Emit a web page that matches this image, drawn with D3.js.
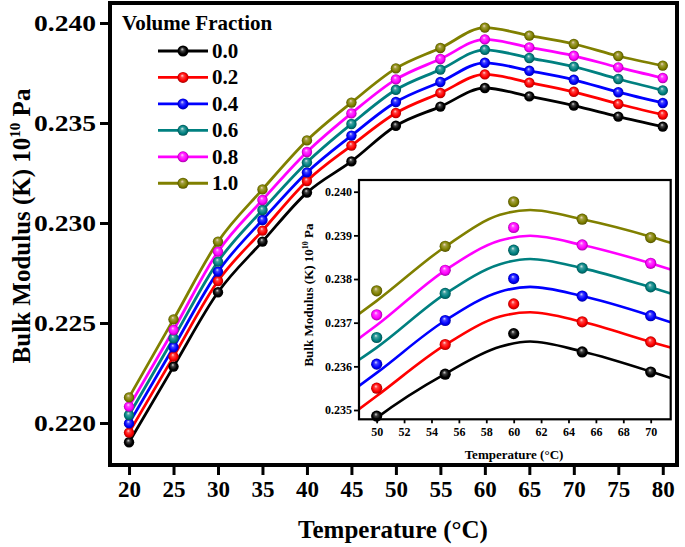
<!DOCTYPE html>
<html><head><meta charset="utf-8">
<script src="https://cdn.jsdelivr.net/npm/d3@7"></script>
<style>body{margin:0;background:#fff}</style>
</head><body><svg id="c" width="685" height="547"></svg>
<script>
// ---------- data ----------
const temps = [20, 25, 30, 35, 40, 45, 50, 55, 60, 65, 70, 75, 80];
const fractions = ["0.0", "0.2", "0.4", "0.6", "0.8", "1.0"];
const colors = ["#000000", "#ff0000", "#0000ff", "#008080", "#ff00ff", "#808000"];
const k00 = [0.21904, 0.22282, 0.22654, 0.22907, 0.23152, 0.23308, 0.23486, 0.23582, 0.23675, 0.23633, 0.23587, 0.23532, 0.23482];
const k02 = [0.21952, 0.22332, 0.22710, 0.22962, 0.23210, 0.23387, 0.23550, 0.23650, 0.23743, 0.23702, 0.23656, 0.23595, 0.23542];
const k04 = [0.21998, 0.22379, 0.22757, 0.23015, 0.23253, 0.23437, 0.23605, 0.23705, 0.23801, 0.23761, 0.23716, 0.23654, 0.23600];
const k06 = [0.22040, 0.22424, 0.22807, 0.23065, 0.23303, 0.23495, 0.23666, 0.23767, 0.23866, 0.23825, 0.23782, 0.23720, 0.23663];
const k08 = [0.22082, 0.22465, 0.22857, 0.23115, 0.23355, 0.23548, 0.23718, 0.23820, 0.23918, 0.23878, 0.23836, 0.23778, 0.23725];
const k10 = [0.22128, 0.22518, 0.22907, 0.23168, 0.23413, 0.23602, 0.23773, 0.23875, 0.23977, 0.23937, 0.23895, 0.23835, 0.23787];
const mainSeries = [k00, k02, k04, k06, k08, k10];

// inset: fitted curves
const insetTemps = [50, 55, 60, 65, 70];
const fitTemps = [48.71, 50, 55, 59, 61.2, 65, 70, 71.46];
const fit00 = [0.23450, 0.23482, 0.23583, 0.23645, 0.23657, 0.23634, 0.23588, 0.23573];
const fit02 = [0.23502, 0.23532, 0.23649, 0.23714, 0.23724, 0.23702, 0.23656, 0.23643];
const fit04 = [0.23555, 0.23585, 0.23705, 0.23771, 0.23782, 0.23761, 0.23716, 0.23701];
const fit06 = [0.23615, 0.23643, 0.23766, 0.23834, 0.23846, 0.23825, 0.23781, 0.23767];
const fit08 = [0.23664, 0.23694, 0.23820, 0.23888, 0.23899, 0.23878, 0.23836, 0.23822];
const fit10 = [0.23720, 0.23750, 0.23874, 0.23947, 0.23958, 0.23937, 0.23897, 0.23883];
const fitSeries = [fit00, fit02, fit04, fit06, fit08, fit10];

const mainXTicks = [20, 25, 30, 35, 40, 45, 50, 55, 60, 65, 70, 75, 80];
const mainYTicks = [0.220, 0.225, 0.230, 0.235, 0.240];
const insetXTicks = [50, 52, 54, 56, 58, 60, 62, 64, 66, 68, 70];
const insetYTicks = [0.235, 0.236, 0.237, 0.238, 0.239, 0.240];

// ---------- drawing ----------
const FONT = "'Liberation Serif','Times New Roman',serif";
const svg = d3.select("#c");
const defs = svg.append("defs");
colors.forEach((c, i) => {
  const g = defs.append("radialGradient").attr("id", "g" + i)
    .attr("cx", "50%").attr("cy", "50%").attr("r", "50%").attr("fx", "42%").attr("fy", "32%");
  const hi = i === 5 ? "#f4d2c0" : d3.interpolateRgb(c, "#ffffff")(0.85);
  g.append("stop").attr("offset", "0%").attr("stop-color", hi);
  g.append("stop").attr("offset", "30%").attr("stop-color", d3.interpolateRgb(c, "#ffffff")(0.25));
  g.append("stop").attr("offset", "70%").attr("stop-color", c);
  g.append("stop").attr("offset", "100%").attr("stop-color", d3.interpolateRgb(c, "#000000")(0.35));
});

// main scales
const x = d3.scaleLinear().domain([17.86, 81.6]).range([110, 677]);
const y = d3.scaleLinear().domain([0.2179, 0.2410]).range([465, 3]);

// axes
const xAxis = svg.append("g").attr("transform", "translate(0,465)")
  .call(d3.axisBottom(x).tickValues(mainXTicks).tickSize(10).tickPadding(6).tickFormat(d3.format("d")));
const yAxis = svg.append("g").attr("transform", "translate(110,0)")
  .call(d3.axisLeft(y).tickValues(mainYTicks).tickSize(10).tickPadding(4).tickFormat(d3.format(".3f")));
[xAxis, yAxis].forEach(a => {
  a.select(".domain").remove();
  a.selectAll(".tick line").attr("stroke", "#000").attr("stroke-width", 3);
  a.selectAll(".tick text").attr("fill", "#000").style("font-family", FONT).style("font-weight", "bold");
});
xAxis.selectAll(".tick text").style("font-size", "23px");
yAxis.selectAll(".tick text").style("font-size", "23px").attr("textLength", 62).attr("lengthAdjust", "spacingAndGlyphs");

// frame
svg.append("rect").attr("x", 110).attr("y", 3).attr("width", 567).attr("height", 462)
  .attr("fill", "none").attr("stroke", "#000").attr("stroke-width", 4);

// main lines & markers
const line = d3.line().x((d, i) => x(temps[i])).y(d => y(d)).curve(d3.curveMonotoneX);
mainSeries.forEach((s, i) => {
  svg.append("path").datum(s).attr("d", line).attr("fill", "none")
    .attr("stroke", colors[i]).attr("stroke-width", 2.8);
});
mainSeries.forEach((s, i) => {
  svg.append("g").selectAll("circle").data(s).join("circle")
    .attr("cx", (d, j) => x(temps[j])).attr("cy", d => y(d)).attr("r", 5.2)
    .attr("fill", "url(#g" + i + ")");
});

// legend
svg.append("text").attr("x", 122).attr("y", 30).text("Volume Fraction")
  .style("font-family", FONT).style("font-weight", "bold").style("font-size", "21px");
fractions.forEach((f, i) => {
  const cy = 51 + i * 26.45;
  svg.append("line").attr("x1", 158).attr("x2", 208).attr("y1", cy).attr("y2", cy)
    .attr("stroke", colors[i]).attr("stroke-width", 2.8);
  svg.append("circle").attr("cx", 183).attr("cy", cy).attr("r", 5.5).attr("fill", "url(#g" + i + ")");
  svg.append("text").attr("x", 212).attr("y", cy + 7).text(f)
    .style("font-family", FONT).style("font-weight", "bold").style("font-size", "21px");
});

// axis titles
svg.append("text").attr("x", 393).attr("y", 538).attr("text-anchor", "middle")
  .style("font-family", FONT).style("font-weight", "bold").style("font-size", "25px")
  .text("Temperature (°C)");
const yt = svg.append("text").attr("transform", "translate(30,226) rotate(-90)").attr("text-anchor", "middle")
  .style("font-family", FONT).style("font-weight", "bold").style("font-size", "25px");
yt.append("tspan").text("Bulk Modulus (K) 10");
yt.append("tspan").attr("dy", -10).style("font-size", "15px").text("10");
yt.append("tspan").attr("dy", 10).text(" Pa");

// ---------- inset ----------
const ix = d3.scaleLinear().domain([48.71, 71.46]).range([359, 670.7]);
const iy = d3.scaleLinear().domain([0.234787, 0.240268]).range([419.3, 180]);
svg.append("rect").attr("x", 359).attr("y", 180).attr("width", 311.7).attr("height", 239.3).attr("fill", "#fff");
defs.append("clipPath").attr("id", "iclip").append("rect")
  .attr("x", 359).attr("y", 180).attr("width", 311.7).attr("height", 239.3);

const ixAxis = svg.append("g").attr("transform", "translate(0,419.3)")
  .call(d3.axisBottom(ix).tickValues(insetXTicks).tickSize(4).tickPadding(4).tickFormat(d3.format("d")));
const iyAxis = svg.append("g").attr("transform", "translate(359,0)")
  .call(d3.axisLeft(iy).tickValues(insetYTicks).tickSize(5).tickPadding(2).tickFormat(d3.format(".3f")));
[ixAxis, iyAxis].forEach(a => {
  a.select(".domain").remove();
  a.selectAll(".tick line").attr("stroke", "#000").attr("stroke-width", 1.8);
  a.selectAll(".tick text").attr("fill", "#000").style("font-family", FONT).style("font-weight", "bold").style("font-size", "12px");
});

const iline = d3.line().x((d, i) => ix(fitTemps[i])).y(d => iy(d)).curve(d3.curveMonotoneX);
const ig = svg.append("g").attr("clip-path", "url(#iclip)");
fitSeries.forEach((s, i) => {
  ig.append("path").datum(s).attr("d", iline).attr("fill", "none")
    .attr("stroke", colors[i]).attr("stroke-width", 2.6);
});
mainSeries.forEach((s, i) => {
  const pts = insetTemps.map(t => ({t, v: s[temps.indexOf(t)]}));
  svg.append("g").selectAll("circle").data(pts).join("circle")
    .attr("cx", d => ix(d.t)).attr("cy", d => iy(d.v)).attr("r", 5.6)
    .attr("fill", "url(#g" + i + ")");
});
svg.append("rect").attr("x", 359).attr("y", 180).attr("width", 311.7).attr("height", 239.3)
  .attr("fill", "none").attr("stroke", "#000").attr("stroke-width", 2.2);

svg.append("text").attr("x", 514).attr("y", 459).attr("text-anchor", "middle")
  .style("font-family", FONT).style("font-weight", "bold").style("font-size", "13px")
  .text("Temperature (°C)");
const iyt = svg.append("text").attr("transform", "translate(313,295) rotate(-90)").attr("text-anchor", "middle")
  .style("font-family", FONT).style("font-weight", "bold").style("font-size", "13px");
iyt.append("tspan").text("Bulk Modulus (K) 10");
iyt.append("tspan").attr("dy", -5).style("font-size", "8px").text("10");
iyt.append("tspan").attr("dy", 5).text(" Pa");
</script></body></html>
